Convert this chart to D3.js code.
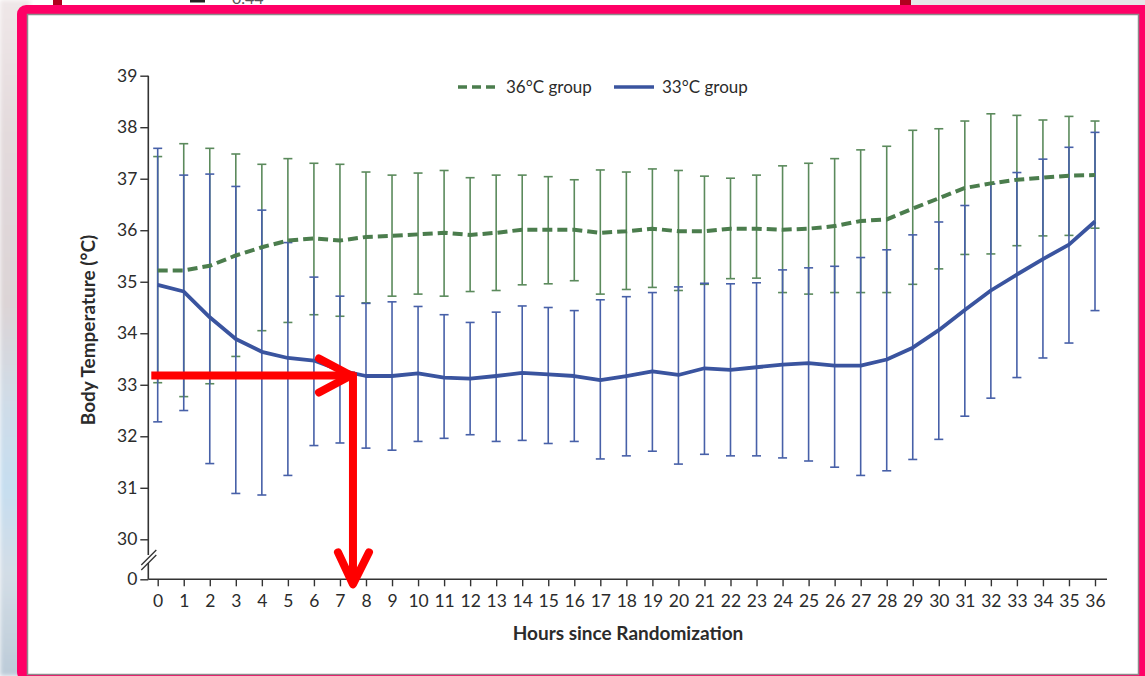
<!DOCTYPE html>
<html>
<head>
<meta charset="utf-8">
<script src="https://cdn.jsdelivr.net/npm/d3@7"></script>
<style>
  html, body { margin: 0; padding: 0; background: #ffffff; }
  svg { display: block; font-family: Lato, "Open Sans", sans-serif; }
</style>
</head>
<body>
<svg id="chart" width="1145" height="676"></svg>
<script>
// Hours since randomization (x categories)
const hours = [0, 1, 2, 3, 4, 5, 6, 7, 8, 9, 10, 11, 12, 13, 14, 15, 16, 17, 18,
               19, 20, 21, 22, 23, 24, 25, 26, 27, 28, 29, 30, 31, 32, 33, 34, 35, 36];

// Y-axis tick values (axis is broken between 0 and 30)
const yTicks = [0, 30, 31, 32, 33, 34, 35, 36, 37, 38, 39];

// 36°C group: mean body temperature and error-bar limits
const temp36Mean = [35.22, 35.22, 35.31, 35.51, 35.67, 35.80, 35.84, 35.80, 35.87, 35.89,
                    35.92, 35.95, 35.91, 35.95, 36.01, 36.01, 36.01, 35.95, 35.98, 36.03,
                    35.98, 35.98, 36.03, 36.03, 36.01, 36.03, 36.08, 36.18, 36.21, 36.42,
                    36.62, 36.82, 36.91, 36.98, 37.02, 37.06, 37.07];
const temp36Upper = [37.43, 37.68, 37.59, 37.48, 37.28, 37.39, 37.30, 37.28, 37.13, 37.07,
                     37.11, 37.16, 37.02, 37.07, 37.07, 37.04, 36.98, 37.17, 37.13, 37.19,
                     37.16, 37.05, 37.01, 37.07, 37.25, 37.30, 37.39, 37.56, 37.63, 37.94,
                     37.97, 38.12, 38.26, 38.23, 38.14, 38.21, 38.12];
const temp36Lower = [33.04, 32.77, 33.02, 33.55, 34.05, 34.21, 34.36, 34.33, 34.59, 34.72,
                     34.76, 34.72, 34.81, 34.83, 34.94, 34.96, 35.02, 34.76, 34.85, 34.89,
                     34.83, 34.95, 35.06, 35.07, 34.79, 34.76, 34.79, 34.79, 34.79, 34.95,
                     35.25, 35.53, 35.54, 35.70, 35.89, 35.90, 36.04];

// 33°C group: mean body temperature and error-bar limits
const temp33Mean = [34.94, 34.81, 34.31, 33.89, 33.64, 33.52, 33.47, 33.28, 33.17, 33.17,
                    33.22, 33.14, 33.12, 33.17, 33.23, 33.20, 33.17, 33.09, 33.17, 33.26,
                    33.19, 33.32, 33.29, 33.34, 33.39, 33.42, 33.37, 33.37, 33.49, 33.72,
                    34.06, 34.45, 34.83, 35.14, 35.44, 35.72, 36.17];
const temp33Upper = [37.59, 37.07, 37.09, 36.85, 36.39, 35.76, 35.09, 34.72, 34.58, 34.61,
                     34.52, 34.36, 34.21, 34.41, 34.53, 34.50, 34.44, 34.65, 34.71, 34.79,
                     34.90, 34.97, 34.96, 34.98, 35.23, 35.27, 35.30, 35.47, 35.62, 35.91,
                     36.16, 36.48, 36.90, 37.12, 37.38, 37.61, 37.90];
const temp33Lower = [32.28, 32.50, 31.47, 30.89, 30.86, 31.24, 31.82, 31.87, 31.77, 31.73,
                     31.90, 31.96, 32.03, 31.90, 31.92, 31.86, 31.90, 31.56, 31.62, 31.71,
                     31.46, 31.65, 31.62, 31.62, 31.58, 31.52, 31.40, 31.24, 31.33, 31.55,
                     31.94, 32.39, 32.74, 33.14, 33.52, 33.81, 34.44];

const seriesNames = ["36°C group", "33°C group"];

// Annotation: red arrows marking the point where the 33°C curve reaches target
const arrowHour = 7.5;
const arrowTemp = 33.18;

const svg = d3.select("#chart");
const W = 1145, H = 676;

// ---------- surrounding frame ----------
const defs = svg.append("defs");
const bgGrad = defs.append("linearGradient").attr("id", "bgGrad")
  .attr("x1", 0).attr("y1", 0).attr("x2", 0).attr("y2", 1);
[[0, "#efe7e8"], [0.2, "#e3dadc"], [0.45, "#dcd4d6"], [0.6, "#cfdce8"],
 [0.72, "#c6def0"], [0.85, "#d3dde6"], [1, "#bccbd8"]]
  .forEach(([o, c]) => bgGrad.append("stop").attr("offset", o).attr("stop-color", c));
const blur = defs.append("filter").attr("id", "soft");
blur.append("feGaussianBlur").attr("stdDeviation", 2);

svg.append("rect").attr("x", 0).attr("y", 0).attr("width", 30).attr("height", H)
  .attr("fill", "url(#bgGrad)").attr("filter", "url(#soft)");
svg.append("rect").attr("x", 900).attr("y", 0).attr("width", 245).attr("height", 12)
  .attr("fill", "#e6e6e8");

// sheet peeking above the frame
const topStrip = svg.append("g");
topStrip.append("rect").attr("x", 55).attr("y", -4).attr("width", 852).attr("height", 14)
  .attr("fill", "#ffffff");
topStrip.append("rect").attr("x", 53).attr("y", -4).attr("width", 9).attr("height", 14)
  .attr("fill", "#b0001e");
topStrip.append("rect").attr("x", 900).attr("y", -4).attr("width", 11).attr("height", 14)
  .attr("fill", "#b0001e");
topStrip.append("rect").attr("x", 190).attr("y", 0).attr("width", 15).attr("height", 2.5)
  .attr("fill", "#222");
topStrip.append("text").attr("x", 232).attr("y", 4).attr("font-size", 16)
  .attr("fill", "#555").text("0.44");

svg.append("rect").attr("x", 17).attr("y", 5).attr("width", W).attr("height", H)
  .attr("rx", 9).attr("fill", "#ff0066");
svg.append("rect").attr("x", 27.5).attr("y", 14.5).attr("width", 1111).attr("height", 660)
  .attr("fill", "#ffffff").attr("stroke", "#8c8c8c").attr("stroke-width", 1.5);

// ---------- scales ----------
const x = d3.scaleLinear().domain([0, 36]).range([157.7, 1095]);
const y = d3.scaleLinear().domain([0, 30, 39]).range([579.3, 539.3, 75.7]);
const axisX = 148.3, axisY = 579.3;

const textColor = "#2b2b2b";
const green = "#5b8a5c", greenLine = "#4b7d4d";
const blue = "#4760a8", blueLine = "#3a549f";

// ---------- axes ----------
const gy = svg.append("g").attr("transform", `translate(${axisX},0)`)
  .call(d3.axisLeft(y).tickValues(yTicks).tickSize(8).tickPadding(3).tickFormat(d3.format("d")));
gy.select(".domain").remove();
gy.selectAll(".tick line").attr("stroke", "#333").attr("stroke-width", 1.4);
gy.selectAll(".tick text").attr("font-size", 17.5).attr("fill", textColor)
  .attr("font-family", "Lato, 'Open Sans', sans-serif");
gy.append("line").attr("x1", 0).attr("x2", 0).attr("y1", y(39)).attr("y2", axisY)
  .attr("stroke", "#333").attr("stroke-width", 1.6);

// axis break marks
const brk = svg.append("g");
brk.append("rect").attr("x", axisX - 2).attr("y", 555).attr("width", 4).attr("height", 8)
  .attr("fill", "#fff");
[0, 5].forEach(o => brk.append("line")
  .attr("x1", axisX - 7).attr("y1", 565 + o).attr("x2", axisX + 8).attr("y2", 550 + o)
  .attr("stroke", "#333").attr("stroke-width", 1.3));

const gx = svg.append("g").attr("transform", `translate(0,${axisY})`)
  .call(d3.axisBottom(x).tickValues(hours).tickSize(7).tickPadding(8).tickFormat(d3.format("d")));
gx.select(".domain").remove();
gx.selectAll(".tick line").attr("stroke", "#333").attr("stroke-width", 1.4);
gx.selectAll(".tick text").attr("font-size", 17.5).attr("fill", textColor)
  .attr("font-family", "Lato, 'Open Sans', sans-serif");
gx.append("line").attr("x1", axisX).attr("x2", 1107).attr("y1", 0).attr("y2", 0)
  .attr("stroke", "#333").attr("stroke-width", 1.6);

// axis titles
svg.append("text").attr("x", 628).attr("y", 640).attr("text-anchor", "middle")
  .attr("font-size", 19).attr("font-weight", "bold").attr("fill", textColor)
  .text("Hours since Randomization");
svg.append("text").attr("transform", "translate(95,330) rotate(-90)")
  .attr("text-anchor", "middle").attr("font-size", 19).attr("font-weight", "bold")
  .attr("fill", textColor).text("Body Temperature (°C)");

// ---------- error bars ----------
function errorBars(lower, upper, color) {
  const g = svg.append("g").attr("stroke", color).attr("stroke-width", 1.6).attr("fill", "none");
  const rows = hours.map((h, i) => ({ h, lo: lower[i], hi: upper[i] }));
  g.selectAll(".v").data(rows).join("line")
    .attr("x1", d => x(d.h)).attr("x2", d => x(d.h))
    .attr("y1", d => y(d.lo)).attr("y2", d => y(d.hi));
  g.selectAll(".cl").data(rows).join("line")
    .attr("x1", d => x(d.h) - 4.5).attr("x2", d => x(d.h) + 4.5)
    .attr("y1", d => y(d.lo)).attr("y2", d => y(d.lo));
  g.selectAll(".cu").data(rows).join("line")
    .attr("x1", d => x(d.h) - 4.5).attr("x2", d => x(d.h) + 4.5)
    .attr("y1", d => y(d.hi)).attr("y2", d => y(d.hi));
}
errorBars(temp36Lower, temp36Upper, green);
errorBars(temp33Lower, temp33Upper, blue);

// ---------- mean lines ----------
const line = d3.line().x(d => x(d[0])).y(d => y(d[1]));
svg.append("path").datum(hours.map((h, i) => [h, temp36Mean[i]]))
  .attr("d", line).attr("fill", "none").attr("stroke", greenLine)
  .attr("stroke-width", 4).attr("stroke-dasharray", "10,5");
svg.append("path").datum(hours.map((h, i) => [h, temp33Mean[i]]))
  .attr("d", line).attr("fill", "none").attr("stroke", blueLine)
  .attr("stroke-width", 3.8).attr("stroke-linejoin", "round");

// ---------- legend ----------
const legend = svg.append("g").attr("font-size", 17).attr("fill", textColor);
legend.append("line").attr("x1", 458).attr("x2", 496).attr("y1", 87).attr("y2", 87)
  .attr("stroke", greenLine).attr("stroke-width", 3.5).attr("stroke-dasharray", "9,5");
legend.append("text").attr("x", 506).attr("y", 93).text(seriesNames[0]);
legend.append("line").attr("x1", 614).attr("x2", 654).attr("y1", 87).attr("y2", 87)
  .attr("stroke", blueLine).attr("stroke-width", 3.5);
legend.append("text").attr("x", 662).attr("y", 93).text(seriesNames[1]);

// ---------- red arrow annotation ----------
const ax = x(arrowHour), ay = y(arrowTemp);
const arrows = svg.append("g").attr("stroke", "#ff0000").attr("stroke-width", 8)
  .attr("fill", "none").attr("stroke-linecap", "round").attr("stroke-linejoin", "round");
arrows.append("line").attr("x1", axisX + 3).attr("x2", ax + 2).attr("y1", ay).attr("y2", ay)
  .attr("stroke-linecap", "butt");
arrows.append("polyline")
  .attr("points", `${ax - 34},${ay - 17} ${ax - 2},${ay} ${ax - 34},${ay + 17}`);
arrows.append("line").attr("x1", ax).attr("x2", ax).attr("y1", ay - 3).attr("y2", axisY + 2)
  .attr("stroke-linecap", "butt");
arrows.append("polyline")
  .attr("points", `${ax - 15},${axisY - 27} ${ax},${axisY + 5} ${ax + 16},${axisY - 27}`);
</script>
</body>
</html>
